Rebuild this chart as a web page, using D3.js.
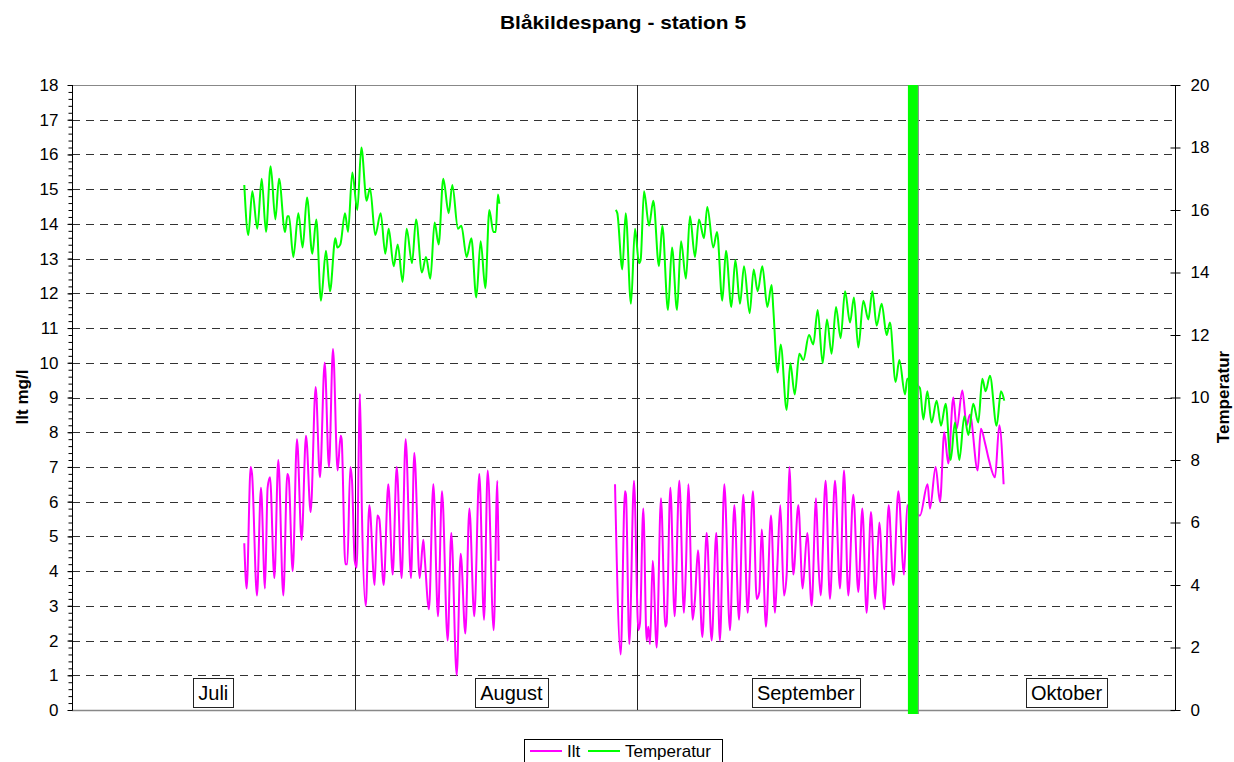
<!DOCTYPE html>
<html>
<head>
  <meta charset="utf-8" />
  <script src="https://d3js.org/d3.v7.min.js"></script>
</head>
<style>
body {
  margin: 0;
  background: #fff;
}
svg text {
  font-family: 'Liberation Sans', Arial, sans-serif;
  fill: #000;
}
</style>
<body>
<div id="chart"></div>
<script>
'use strict';

// days counted from 1 July
const iltJuli = [
  [18.90,4.8],[19.16,3.5],[19.60,7.0],[19.75,6.8],[20.29,3.3],[20.73,6.4],[21.17,3.5],[21.46,6.4],
  [21.72,6.7],[22.20,3.8],[22.63,7.2],[23.18,3.3],[23.62,6.8],[23.77,6.7],[24.21,4.0],[24.68,7.8],
  [25.19,4.9],[25.67,7.9],[26.18,5.7],[26.73,9.3],[27.20,6.7],[27.72,10.0],[28.19,7.0],[28.63,10.4],
  [29.14,6.9],[29.47,7.9],[29.58,7.8],[29.98,4.2],[30.20,4.2],[30.53,7.0],[30.72,6.6],[31.01,4.3],
  [31.23,4.1],[31.59,9.1],[31.81,5.6],[32.22,3.0],[32.62,5.9],[33.20,3.6],[33.49,5.6],[33.71,5.5],
  [34.19,3.6],[34.70,6.5],[35.18,3.9],[35.62,7.0],[36.16,3.8],[36.60,7.8],[37.19,3.8],[37.55,7.4],
  [38.14,3.8],[38.54,4.9],[38.69,4.4],[39.16,2.9],[39.64,6.5],[40.15,2.7],[40.59,6.3],[41.21,2.0],
  [41.61,5.1],[42.20,1.0],[42.64,4.5],[43.15,2.2],[43.59,5.8],[44.13,2.7],[44.68,6.8],[45.20,2.6],
  [45.60,6.9],[46.26,2.3],[46.66,6.6],[46.80,4.3]
];

const iltSept = [
  [59.57,6.5],[60.19,1.6],[60.66,6.3],[60.77,6.2],[61.14,1.9],[61.65,6.6],[62.13,2.3],[62.31,2.5],
  [62.67,5.8],[63.04,2.0],[63.22,2.4],[63.41,1.9],[63.70,4.3],[64.14,1.8],[64.61,6.1],[65.09,2.4],
  [65.23,2.5],[65.64,6.4],[66.11,2.7],[66.62,6.6],[67.13,2.8],[67.35,4.1],[67.61,6.5],[68.09,2.6],
  [68.34,3.2],[68.67,4.6],[69.15,2.1],[69.62,5.1],[70.17,2.0],[70.68,5.1],[71.08,2.0],[71.56,6.5],
  [72.18,2.3],[72.66,5.9],[73.17,2.6],[73.64,6.2],[74.12,2.8],[74.70,6.3],[75.11,3.2],[75.40,3.4],
  [75.66,5.2],[76.13,2.4],[76.68,5.6],[77.12,2.8],[77.37,4.1],[77.70,5.9],[78.10,3.3],[78.40,3.9],
  [78.69,7.0],[79.13,3.9],[79.68,5.9],[80.15,3.5],[80.66,5.1],[81.14,3.0],[81.62,6.1],[81.87,4.3],
  [82.13,3.3],[82.67,6.6],[83.15,3.2],[83.70,6.6],[84.25,3.5],[84.69,6.9],[85.16,3.3],[85.71,6.2],
  [86.26,3.4],[86.70,5.8],[87.17,2.8],[87.65,5.7],[88.12,3.2],[88.56,5.4],[89.11,2.9],[89.59,5.9],
  [90.10,3.6],[90.65,6.3],[91.27,3.9],[91.63,5.9],[93.02,5.6],[93.86,6.5],[94.12,5.8],[94.74,7.0],
  [95.22,6.0],[95.69,8.0],[96.13,7.1],[96.68,9.0],[97.05,8.1],[97.67,9.2],[98.14,8.2],[98.51,8.5],
  [99.35,6.9],[99.71,8.1],[100.15,7.7],[100.59,7.2],[101.25,6.7],[101.73,8.2],[102.20,6.5]
];

const tempJuli = [
  [18.90,16.8],[19.34,15.2],[19.78,16.6],[20.33,15.4],[20.81,17.0],[21.28,15.3],[21.79,17.4],[22.31,15.7],
  [22.71,17.0],[23.37,15.3],[23.62,15.8],[23.80,15.8],[24.28,14.5],[24.83,15.9],[25.30,14.8],[25.78,16.4],
  [26.36,14.6],[26.80,15.7],[27.31,13.1],[27.86,14.7],[28.30,13.4],[28.89,15.1],[29.11,14.8],[29.44,14.9],
  [29.95,15.9],[30.28,15.3],[30.75,17.2],[31.30,16.0],[31.74,18.0],[32.32,16.3],[32.69,16.7],[33.27,15.2],
  [33.86,15.9],[34.37,14.6],[34.74,15.4],[35.29,14.2],[35.73,14.9],[36.27,13.7],[36.71,15.4],[37.30,14.3],
  [37.74,15.7],[38.39,14.0],[38.83,14.5],[39.31,13.8],[39.78,15.6],[40.22,14.9],[40.73,17.0],[41.32,15.9],
  [41.72,16.8],[42.34,15.4],[42.71,15.5],[43.29,14.5],[43.81,15.1],[44.35,13.2],[44.83,15.0],[45.34,13.5],
  [45.78,16.0],[46.22,15.3],[46.48,15.3],[46.73,16.5],[46.88,16.2]
];

const tempSept = [
  [59.64,16.0],[59.82,15.9],[60.37,14.1],[60.74,15.9],[61.32,13.0],[61.76,15.4],[62.20,14.3],[62.38,14.4],
  [62.75,16.6],[63.30,15.5],[63.77,16.3],[64.39,14.2],[64.76,15.5],[65.38,12.8],[65.82,14.8],[66.37,12.8],
  [66.81,15.0],[67.35,13.8],[67.79,15.8],[68.34,14.5],[68.78,15.7],[69.33,15.1],[69.69,16.1],[70.35,14.8],
  [70.76,15.3],[71.34,13.1],[71.74,14.7],[72.33,12.9],[72.77,14.4],[73.28,13.0],[73.72,14.2],[74.34,12.7],
  [74.78,14.1],[75.22,13.4],[75.73,14.2],[76.28,12.9],[76.75,13.6],[76.94,12.8],[77.41,10.8],[77.74,11.7],
  [78.40,9.6],[78.80,11.1],[79.28,10.1],[79.79,11.4],[80.23,11.2],[80.85,12.0],[81.32,11.7],[81.80,12.8],
  [82.35,11.1],[82.82,12.5],[83.33,11.4],[83.81,12.9],[84.32,11.9],[84.80,13.4],[85.35,12.4],[85.78,13.2],
  [86.26,11.6],[86.81,13.1],[87.36,12.5],[87.80,13.4],[88.27,12.3],[88.82,13.0],[89.37,12.0],[89.73,12.4],
  [90.35,10.5],[90.76,11.2],[91.38,10.1],[91.63,10.6],[93.02,10.3],[93.39,9.3],[93.83,10.2],[94.30,9.2],
  [94.85,9.9],[95.33,9.1],[95.84,9.8],[96.39,8.0],[96.86,9.2],[97.34,8.0],[97.89,9.4],[98.33,8.8],
  [98.87,9.8],[99.42,9.2],[99.86,10.6],[100.23,10.2],[100.70,10.7],[101.43,9.1],[101.91,10.2],[102.27,9.9]
];

const monthNames = ['Juli', 'August', 'September', 'Oktober'];
const monthStarts = [31, 62];       // 1 Aug, 1 Sep
const markerDays = [91.7, 92.8];    // green marker band
const leftTicks = d3.range(0, 19);
const rightTicks = d3.range(0, 21, 2);

const W = 1234, H = 762;
const plot = {left: 72, right: 1175, top: 85, bottom: 710};

const svg = d3.select('#chart').append('svg')
  .attr('width', W)
  .attr('height', H);

const x = d3.scaleLinear().domain([0, 121]).range([plot.left, plot.right]);
const yL = d3.scaleLinear().domain([0, 18]).range([plot.bottom, plot.top]);
const yR = d3.scaleLinear().domain([0, 20]).range([plot.bottom, plot.top]);

// title
svg.append('text')
  .attr('x', 623).attr('y', 29)
  .attr('text-anchor', 'middle')
  .style('font-size', '18px').style('font-weight', 'bold')
  .attr('textLength', 246).attr('lengthAdjust', 'spacingAndGlyphs')
  .text('Blåkildespang - station 5');

// gridlines
svg.append('g').selectAll('line')
  .data(leftTicks.filter(d => d > 0 && d < 18))
  .enter().append('line')
    .attr('x1', plot.left).attr('x2', plot.right)
    .attr('y1', d => Math.round(yL(d)) + 0.5).attr('y2', d => Math.round(yL(d)) + 0.5)
    .style('stroke', '#333').style('stroke-dasharray', '8,6');

// frame top / bottom
svg.append('line')
  .attr('x1', plot.left).attr('x2', plot.right).attr('y1', plot.top + 0.5).attr('y2', plot.top + 0.5)
  .style('stroke', '#888');
svg.append('line')
  .attr('x1', plot.left).attr('x2', plot.right).attr('y1', plot.bottom + 0.5).attr('y2', plot.bottom + 0.5)
  .style('stroke', '#888').style('stroke-width', 1.5);

// month separators
svg.append('g').selectAll('line')
  .data(monthStarts)
  .enter().append('line')
    .attr('x1', d => Math.round(x(d)) + 0.5).attr('x2', d => Math.round(x(d)) + 0.5)
    .attr('y1', plot.top).attr('y2', plot.bottom)
    .style('stroke', '#222');

// month label boxes
const labelDays = [15.5, 48.2, 80.5, 109.1];
const mlab = svg.append('g').selectAll('g')
  .data(monthNames)
  .enter().append('g');
mlab.append('text')
  .attr('x', (d, i) => x(labelDays[i]))
  .attr('y', 700)
  .attr('text-anchor', 'middle')
  .style('font-size', '20px')
  .text(d => d);
mlab.each(function() {
  const g = d3.select(this);
  const bb = g.select('text').node().getBBox();
  g.insert('rect', 'text')
    .attr('x', Math.round(bb.x - 5) + 0.5).attr('y', 678.5)
    .attr('width', Math.round(bb.width + 10)).attr('height', 29)
    .style('fill', '#fff').style('stroke', '#222');
});

// series
const lineL = d3.line().curve(d3.curveMonotoneX).x(d => x(d[0])).y(d => yL(d[1]));
const lineR = d3.line().curve(d3.curveMonotoneX).x(d => x(d[0])).y(d => yR(d[1]));

[iltJuli, iltSept].forEach(s => {
  svg.append('path').datum(s)
    .attr('d', lineL)
    .style('fill', 'none').style('stroke', '#ff00ff').style('stroke-width', 2)
    .style('stroke-linejoin', 'round');
});
[tempJuli, tempSept].forEach(s => {
  svg.append('path').datum(s)
    .attr('d', lineR)
    .style('fill', 'none').style('stroke', '#00ff00').style('stroke-width', 2)
    .style('stroke-linejoin', 'round');
});

// green marker
svg.append('rect')
  .attr('x', x(markerDays[0])).attr('y', plot.top)
  .attr('width', x(markerDays[1]) - x(markerDays[0])).attr('height', plot.bottom - plot.top + 4)
  .style('fill', '#00ff00');
svg.append('line')
  .attr('x1', x(markerDays[1]) + 0.5).attr('x2', x(markerDays[1]) + 0.5)
  .attr('y1', plot.top).attr('y2', plot.bottom + 4)
  .style('stroke', '#888');

// left axis
const axL = svg.append('g')
  .attr('transform', 'translate(' + (plot.left + 0.5) + ',0)')
  .call(d3.axisLeft(yL).tickValues(leftTicks).tickFormat(d3.format('d')).tickSize(5).tickPadding(9));
axL.select('.domain').attr('d', 'M0,' + plot.top + 'V' + plot.bottom);
axL.selectAll('text').style('font-size', '17px').style('font-family', "'Liberation Sans', Arial, sans-serif");
svg.append('g')
  .attr('transform', 'translate(' + (plot.left + 0.5) + ',0)')
  .call(d3.axisLeft(yL).tickValues(d3.range(0, 90).map(d => d / 5)).tickFormat('').tickSize(4))
  .select('.domain').remove();

// right axis
const axR = svg.append('g')
  .attr('transform', 'translate(' + (plot.right + 0.5) + ',0)')
  .call(d3.axisRight(yR).tickValues(rightTicks).tickSize(5).tickPadding(10));
axR.select('.domain').attr('d', 'M0,' + plot.top + 'V' + plot.bottom);
axR.selectAll('.tick line').attr('x1', -5);
axR.selectAll('text').style('font-size', '17px').style('font-family', "'Liberation Sans', Arial, sans-serif");

// axis titles
svg.append('text')
  .attr('transform', 'translate(28,397) rotate(-90)')
  .attr('text-anchor', 'middle')
  .style('font-size', '17px').style('font-weight', 'bold')
  .text('Ilt mg/l');
svg.append('text')
  .attr('transform', 'translate(1229,397) rotate(-90)')
  .attr('text-anchor', 'middle')
  .style('font-size', '17px').style('font-weight', 'bold')
  .text('Temperatur');

// legend
const leg = svg.append('g');
leg.append('rect')
  .attr('x', 524.5).attr('y', 739.5).attr('width', 198).attr('height', 30)
  .style('fill', '#fff').style('stroke', '#000');
const legItems = [['Ilt', '#ff00ff', 530], ['Temperatur', '#00ff00', 588]];
legItems.forEach(([name, col, lx]) => {
  leg.append('line')
    .attr('x1', lx).attr('x2', lx + 32).attr('y1', 751).attr('y2', 751)
    .style('stroke', col).style('stroke-width', 2);
  leg.append('text')
    .attr('x', lx + 37).attr('y', 757)
    .style('font-size', '17px')
    .text(name);
});
</script>
</body>
</html>
